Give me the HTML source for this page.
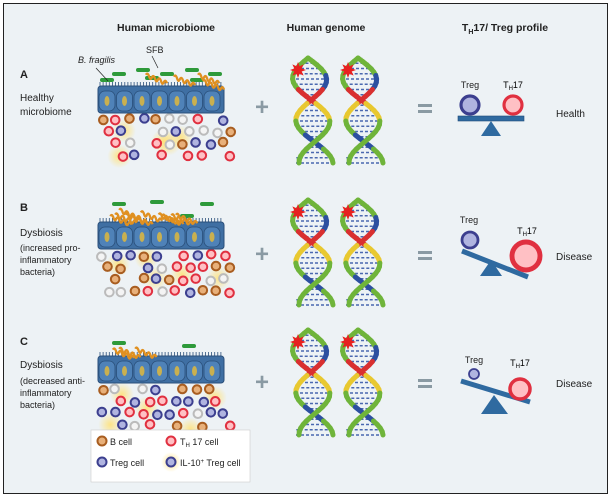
<!DOCTYPE html>
<html><head><meta charset="utf-8"><style>
html,body{margin:0;padding:0;background:#fff}
svg{display:block;font-family:"Liberation Sans",Arial,sans-serif}
</style></head><body>
<svg id="s" width="614" height="500" viewBox="0 0 614 500" xmlns="http://www.w3.org/2000/svg">
<defs>
<radialGradient id="glow"><stop offset="0" stop-color="#ffe27a" stop-opacity="0.9"/><stop offset="1" stop-color="#ffe27a" stop-opacity="0"/></radialGradient>
</defs>
<rect x="3.5" y="3.5" width="604" height="490" fill="#edf2f5" stroke="#222" stroke-width="1"/>
<g font-weight="bold" font-size="10.5" fill="#222" text-anchor="middle">
<text x="166" y="31">Human microbiome</text>
<text x="326" y="31">Human genome</text>
<text x="505" y="31">T<tspan font-size="7" dy="3">H</tspan><tspan dy="-3">17/ Treg profile</tspan></text>
</g>
<g font-size="10" fill="#222">
<text x="20" y="78" font-weight="bold" font-size="11">A</text>
<text x="20" y="101">Healthy</text><text x="20" y="115">microbiome</text>
<text x="20" y="211" font-weight="bold" font-size="11">B</text>
<text x="20" y="236">Dysbiosis</text>
<text x="20" y="251" font-size="9">(increased pro-</text><text x="20" y="263" font-size="9">inflammatory</text><text x="20" y="275" font-size="9">bacteria)</text>
<text x="20" y="345" font-weight="bold" font-size="11">C</text>
<text x="20" y="368">Dysbiosis</text>
<text x="20" y="384" font-size="9">(decreased anti-</text><text x="20" y="396" font-size="9">inflammatory</text><text x="20" y="408" font-size="9">bacteria)</text>
<text x="78" y="63" font-style="italic" font-size="9">B. fragilis</text>
<text x="146" y="53" font-size="9">SFB</text>
<text x="556" y="117">Health</text>
<text x="556" y="260">Disease</text>
<text x="556" y="387">Disease</text>
</g>
<g id="g"></g>
<rect x="91" y="430" width="159" height="52" fill="#fff" stroke="#ccc" stroke-width="0.6"/>
<g font-size="9" fill="#222">
<circle cx="102" cy="441" r="4.5" fill="#e8b07a" stroke="#a85d20" stroke-width="2"/><text x="110" y="445">B cell</text>
<circle cx="171" cy="441" r="4.5" fill="#ffc0c4" stroke="#e03040" stroke-width="2"/><text x="180" y="445">T<tspan font-size="6" dy="2">H</tspan><tspan dy="-2"> 17 cell</tspan></text>
<circle cx="102" cy="462" r="4.5" fill="#b0b4e0" stroke="#3c3f8f" stroke-width="2"/><text x="110" y="466">Treg cell</text>
<circle cx="171" cy="462" r="10" fill="url(#glow)"/>
<circle cx="171" cy="462" r="4.5" fill="#b0b4e0" stroke="#3c3f8f" stroke-width="2"/><text x="180" y="466">IL-10<tspan font-size="6" dy="-3">+</tspan><tspan dy="3"> Treg cell</tspan></text>
</g>
</svg>
<script>
var g=document.getElementById('g'),h='';
function rnd(seed){var x=seed;return function(){x=(x*9301+49297)%233280;return x/233280;}}
var R=rnd(7);
var cols={b:['#e8b07a','#a85d20'],t:['#ffc0c4','#e03040'],r:['#b0b4e0','#3c3f8f'],w:['#f4f4f4','#bbb']};
function tissue(y0,bac){
 for(var i=0;i<5;i++){h+='<circle cx="'+(110+R()*120)+'" cy="'+(y0+35+R()*40)+'" r="12" fill="url(#glow)"/>';}
 var types='btrwtrbwrtbw';
 for(var rr=0;rr<4;rr++)for(var c=0;c<10;c++){
  if(R()<0.15)continue;
  var x=101+c*13.5+(rr%2)*6+R()*3,y=y0+32+rr*12+R()*3;
  var t=cols[types[Math.floor(R()*12)]];
  h+='<circle cx="'+x+'" cy="'+y+'" r="4.3" fill="'+t[0]+'" stroke="'+t[1]+'" stroke-width="2"/>';
 }
 h+='<rect x="98" y="'+y0+'" width="126" height="27" rx="3" fill="#3f6fa3" stroke="#2a4f7a"/>';
 for(var k=0;k<7;k++){var cx=107+k*17.5;
  h+='<rect x="'+(cx-8)+'" y="'+(y0+5)+'" width="16" height="20" rx="6" fill="#4f82b8" stroke="#2a4f7a" stroke-width="0.8"/>';
  h+='<ellipse cx="'+cx+'" cy="'+(y0+15)+'" rx="2.5" ry="5" fill="#c9b050"/>';}
 for(var m=0;m<40;m++)h+='<line x1="'+(100+m*3.1)+'" y1="'+y0+'" x2="'+(100+m*3.1)+'" y2="'+(y0-4)+'" stroke="#2a4f7a" stroke-width="0.8"/>';
 var greens=bac.g,nb=bac.s;
 for(var i=0;i<greens.length;i++)h+='<rect x="'+greens[i][0]+'" y="'+(y0+greens[i][1])+'" width="14" height="4" rx="2" fill="#2e9a3a"/>';
 for(var i=0;i<nb;i++){var sx=110+R()*100,sy=y0-12+R()*10,d='M'+sx+' '+sy;
  for(var j=1;j<8;j++)d+=' Q'+(sx+j*3-1.5)+' '+(sy+(j%2?-4:4)+j*1.2)+' '+(sx+j*3)+' '+(sy+j*1.2);
  h+='<path d="'+d+'" fill="none" stroke="#e09020" stroke-width="2.3"/>';}
}
tissue(86,{g:[[112,-14],[136,-18],[160,-14],[185,-18],[208,-14],[100,-8],[145,-10],[190,-8]],s:4});
h+='<line x1="96" y1="68" x2="108" y2="81" stroke="#222" stroke-width="0.7"/><line x1="152" y1="56" x2="158" y2="68" stroke="#222" stroke-width="0.7"/>';
tissue(222,{g:[[112,-20],[150,-22],[200,-20],[180,-8]],s:10});
tissue(356,{g:[[112,-15],[182,-12]],s:3});
[108,255,383].forEach(function(y){
 h+='<text x="262" y="'+(y+7)+'" font-size="24" font-weight="bold" fill="#8a9aa3" text-anchor="middle">+</text>';
 h+='<rect x="418" y="'+(y-4)+'" width="14" height="3" fill="#8a9aa3"/><rect x="418" y="'+(y+2)+'" width="14" height="3" fill="#8a9aa3"/>';
});
function dna(cx,y0){
 var H=105,A=17,segs=['#6fb43a','#2c4fa0','#d93030','#e8c830','#6fb43a','#2c4fa0','#6fb43a'];
 for(var i=0;i<=20;i++){var y=y0+i*H/20,a=i/20*Math.PI*2.5;var x1=cx+A*Math.sin(a),x2=cx-A*Math.sin(a);
  h+='<line x1="'+x1+'" y1="'+y+'" x2="'+x2+'" y2="'+y+'" stroke="#4a68b0" stroke-width="1.5" stroke-dasharray="3 2"/>';}
 for(var s=0;s<2;s++)for(var i=0;i<30;i++){var t1=i/30,t2=(i+1)/30;
  var y1=y0+t1*H,y2=y0+t2*H,sg=s?-1:1;
  var x1=cx+sg*A*Math.sin(t1*Math.PI*2.5)+(t1-0.5)*8,x2=cx+sg*A*Math.sin(t2*Math.PI*2.5)+(t2-0.5)*8;
  var c=segs[Math.floor(t1*7)];if(s&&c=='#2c4fa0')c='#6fb43a';
  h+='<line x1="'+x1+'" y1="'+y1+'" x2="'+x2+'" y2="'+y2+'" stroke="'+c+'" stroke-width="5" stroke-linecap="round"/>';}
 var sx=cx-14,sy=y0+12,p='';
 for(var k=0;k<16;k++){var r=k%2?4:8,a=k/16*Math.PI*2;p+=(sx+r*Math.cos(a))+','+(sy+r*Math.sin(a))+' ';}
 h+='<polygon points="'+p+'" fill="#e82020"/>';
}
[58,200,330].forEach(function(y){dna(312,y);dna(362,y);});
function ball(x,y,r,t){var c=cols[t];h+='<circle cx="'+x+'" cy="'+y+'" r="'+r+'" fill="'+c[0]+'" stroke="'+c[1]+'" stroke-width="'+(r*0.35)+'"/>';}
function lbl(x,y,t){h+='<text x="'+x+'" y="'+y+'" font-size="9" text-anchor="middle" fill="#222">'+t+'</text>';}
function th(x,y){h+='<text x="'+x+'" y="'+y+'" font-size="9" text-anchor="middle">T<tspan font-size="6" dy="2">H</tspan><tspan dy="-2">17</tspan></text>';}
h+='<polygon points="491,121 481,136 501,136" fill="#2f6aa0"/><rect x="458" y="116" width="66" height="5" fill="#2f6aa0" stroke="#1f4a78" stroke-width="0.6"/>';
ball(470,105,9,'r');ball(513,105,9,'t');lbl(470,88,'Treg');th(513,88);
h+='<polygon points="491,260 480,276 502,276" fill="#2f6aa0"/><line x1="462" y1="251" x2="528" y2="277" stroke="#2f6aa0" stroke-width="5"/>';
ball(470,240,8,'r');ball(526,256,14,'t');lbl(469,223,'Treg');th(527,234);
h+='<polygon points="494,395 481,414 508,414" fill="#2f6aa0"/><line x1="461" y1="381" x2="530" y2="402" stroke="#2f6aa0" stroke-width="5"/>';
ball(474,374,5,'r');ball(520,389,10,'t');lbl(474,363,'Treg');th(520,366);
g.innerHTML=h;
</script>
</body></html>
